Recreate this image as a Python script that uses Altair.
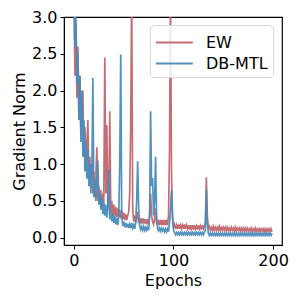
import altair as alt
import pandas as pd

epochs = list(range(200))

ew = [3.3, 2.2, 2.9, 1.9, 2.6, 1.6, 2.2, 1.4, 1.9, 2.0,
      1.1, 1.5, 0.95, 1.3, 1.6, 0.8, 1.1, 0.7, 1.0, 0.6,
      0.9, 0.55, 0.8, 1.23, 0.5, 0.7, 0.45, 0.65, 0.4, 0.6,
      0.5, 2.45, 0.6, 1.53, 0.4, 0.5, 1.72, 0.35, 0.5, 0.3,
      0.45, 0.3, 0.42, 0.28, 0.4, 0.28, 0.38, 0.26, 0.36, 0.25,
      0.34, 0.24, 0.32, 0.24, 0.3, 0.35, 0.6, 1.5, 3.4, 0.4,
      0.22, 0.3, 0.2, 0.28, 0.35, 0.2, 0.27, 0.19, 0.26, 0.19,
      0.26, 0.19, 0.25, 0.18, 0.25, 0.18, 0.3, 0.6, 0.3, 0.22,
      0.18, 0.25, 0.4, 0.2, 0.17, 0.24, 0.17, 0.24, 0.17, 0.24,
      0.17, 0.24, 0.17, 0.24, 0.17, 0.3, 1.2, 3.4, 0.9, 0.25,
      0.14, 0.18, 0.12, 0.17, 0.12, 0.18, 0.12, 0.17, 0.12, 0.17,
      0.12, 0.18, 0.12, 0.17, 0.12, 0.17, 0.11, 0.17, 0.12, 0.17,
      0.11, 0.17, 0.12, 0.16, 0.11, 0.17, 0.12, 0.16, 0.11, 0.17,
      0.12, 0.16, 0.2, 0.82, 0.3, 0.12, 0.15, 0.1, 0.14, 0.1,
      0.15, 0.1, 0.14, 0.1, 0.14, 0.1, 0.15, 0.1, 0.14, 0.1,
      0.14, 0.1, 0.14, 0.09, 0.14, 0.1, 0.13, 0.09, 0.14, 0.1,
      0.13, 0.09, 0.14, 0.09, 0.13, 0.1, 0.13, 0.09, 0.13, 0.09,
      0.13, 0.09, 0.13, 0.09, 0.13, 0.09, 0.12, 0.09, 0.13, 0.08,
      0.12, 0.09, 0.13, 0.08, 0.12, 0.09, 0.12, 0.08, 0.12, 0.09,
      0.12, 0.08, 0.12, 0.08, 0.12, 0.09, 0.12, 0.08, 0.12, 0.08]

dbmtl = [3.3, 2.6, 3.0, 2.1, 2.5, 1.6, 2.2, 1.3, 2.0, 1.1,
         1.6, 0.9, 1.3, 0.8, 1.2, 0.7, 1.0, 0.6, 0.9, 2.17,
         0.55, 0.8, 0.5, 0.7, 1.05, 0.45, 0.6, 0.38, 0.55, 0.32,
         0.5, 0.3, 0.45, 0.27, 0.4, 0.92, 0.25, 0.35, 0.22, 0.32,
         0.2, 0.3, 0.18, 0.27, 0.17, 0.3, 1.0, 2.49, 0.3, 0.16,
         0.22, 0.14, 0.2, 0.14, 0.19, 0.13, 0.18, 0.13, 0.2, 0.13,
         0.17, 0.12, 0.2, 0.5, 1.04, 0.4, 0.15, 0.11, 0.15, 0.1,
         0.15, 0.1, 0.14, 0.1, 0.14, 0.1, 0.3, 1.72, 0.7, 0.81,
         0.3, 0.5, 1.1, 0.3, 0.12, 0.09, 0.13, 0.09, 0.13, 0.09,
         0.12, 0.08, 0.12, 0.08, 0.12, 0.08, 0.2, 0.4, 0.65, 0.3,
         0.1, 0.07, 0.04, 0.07, 0.04, 0.07, 0.04, 0.07, 0.04, 0.07,
         0.04, 0.07, 0.04, 0.07, 0.04, 0.07, 0.04, 0.07, 0.04, 0.07,
         0.04, 0.07, 0.04, 0.07, 0.04, 0.07, 0.04, 0.07, 0.04, 0.07,
         0.04, 0.07, 0.1, 0.65, 0.2, 0.06, 0.03, 0.06, 0.03, 0.06,
         0.03, 0.06, 0.03, 0.06, 0.03, 0.06, 0.03, 0.06, 0.03, 0.06,
         0.03, 0.06, 0.03, 0.06, 0.03, 0.06, 0.03, 0.06, 0.03, 0.06,
         0.03, 0.06, 0.03, 0.06, 0.03, 0.06, 0.03, 0.06, 0.03, 0.06,
         0.03, 0.06, 0.03, 0.06, 0.03, 0.06, 0.03, 0.06, 0.03, 0.06,
         0.03, 0.06, 0.03, 0.06, 0.03, 0.06, 0.03, 0.06, 0.03, 0.06,
         0.03, 0.06, 0.03, 0.06, 0.03, 0.06, 0.03, 0.06, 0.03, 0.06]

series_names = ["EW", "DB-MTL"]
colors = ["#c1666d", "#4a8bbb"]

df_ew = pd.DataFrame({"epoch": epochs, "value": ew, "series": "EW"})
df_db = pd.DataFrame({"epoch": epochs, "value": dbmtl, "series": "DB-MTL"})

x = alt.X("epoch:Q", title="Epochs",
          scale=alt.Scale(domain=[-10, 209], nice=False, zero=False),
          axis=alt.Axis(values=[0, 100, 200], grid=False))
y = alt.Y("value:Q", title="Gradient Norm",
          scale=alt.Scale(domain=[-0.1, 3.0], nice=False, zero=False),
          axis=alt.Axis(values=[0, 0.5, 1.0, 1.5, 2.0, 2.5, 3.0], format=".1f", grid=False))
color = alt.Color("series:N",
                  scale=alt.Scale(domain=series_names, range=colors),
                  legend=alt.Legend(title=None, orient="none", legendX=86, legendY=8,
                                    symbolType="M-1,0H2.2", symbolSize=529,
                                    symbolStrokeWidth=2, labelFontSize=16,
                                    labelFont="DejaVu Sans", labelColor="black",
                                    rowPadding=0, labelOffset=26,
                                    padding=5, fillColor="rgba(255,255,255,0.85)",
                                    strokeColor="#d6d6d6", cornerRadius=4))

l1 = alt.Chart(df_ew).mark_line(strokeWidth=1.7, clip=True, opacity=0.95).encode(x=x, y=y, color=color)
l2 = alt.Chart(df_db).mark_line(strokeWidth=1.7, clip=True, opacity=0.95).encode(x=x, y=y, color=color)

chart = alt.layer(l1, l2).properties(
    width=218, height=228,
    autosize=alt.AutoSizeParams(type="none"),
    padding={"left": 56, "top": 9, "right": 9, "bottom": 46},
).configure_view(stroke="black", strokeWidth=1.2).configure_axis(
    domainColor="black", tickColor="black", tickSize=4, labelFontSize=16,
    titleFontSize=16, labelFont="DejaVu Sans", titleFont="DejaVu Sans",
    labelColor="black", titleColor="black", titleFontWeight="normal",
    labelPadding=3, titlePadding=4,
)

chart.save("out.html", embed_options={"renderer": "svg", "actions": False})
